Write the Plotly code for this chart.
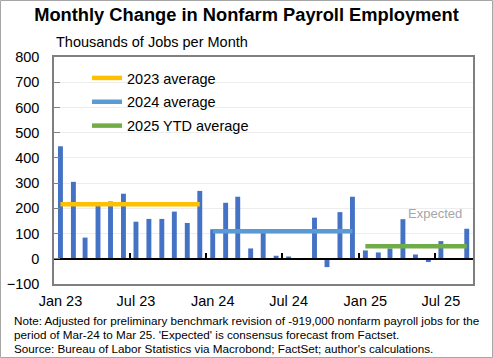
import plotly.graph_objects as go
import pandas as pd

# ---------------- data ----------------
months = pd.date_range("2023-01-01", "2025-09-01", freq="MS")
payroll_change = [
    446, 305, 84, 210, 227, 258, 147, 158, 158, 187, 142, 269,      # 2023
    117, 222, 246, 41, 104, 12, 9, -5, 163, -33, 185, 246,          # 2024
    33, 25, 41, 157, 17, -13, 70, -4, 119,                          # 2025
]
expected_month = "2025-09-01"
expected_value = 48
avg_labels = ["2023 average", "2024 average", "2025 YTD average"]
avg_years = [2023, 2024, 2025]
tick_dates = ["2023-01-01", "2023-07-01", "2024-01-01", "2024-07-01", "2025-01-01", "2025-07-01"]
tick_text = ["Jan 23", "Jul 23", "Jan 24", "Jul 24", "Jan 25", "Jul 25"]
boundary_ticks = ["2023-06-16", "2023-12-16", "2024-06-16", "2024-12-16", "2025-06-16"]
notes = [
    "Note: Adjusted for preliminary benchmark revision of -919,000 nonfarm payroll jobs for the",
    "period of Mar-24 to Mar 25. 'Expected' is consensus forecast from Factset.",
    "Source: Bureau of Labor Statistics via Macrobond; FactSet; author's calculations.",
]

# ---------------- layout constants ----------------
W, H = 493, 358
ML, MR, MT, MB = 54, 20, 57, 74
PW, PH = W - ML - MR, H - MT - MB
FONT = "Liberation Sans, Arial, sans-serif"
BAR = "#4472C4"
AVG_COLORS = ["#FFC000", "#5B9BD5", "#70AD47"]
YMIN, YMAX = -100, 800


def py(pix):  # pixel row -> paper y
    return (H - MB - pix) / PH


def px(pix):  # pixel col -> paper x
    return (pix - ML) / PW


df = pd.DataFrame({"date": months, "val": payroll_change})

fig = go.Figure()
fig.add_trace(go.Bar(x=df["date"], y=df["val"], marker_color=BAR,
                     marker_line_width=0, showlegend=False, hoverinfo="x+y"))
fig.add_trace(go.Bar(x=[pd.Timestamp(expected_month)], y=[expected_value],
                     marker_color="rgba(205,205,205,0.72)", marker_line_width=0,
                     showlegend=False))

for lab, yr, col in zip(avg_labels, avg_years, AVG_COLORS):
    sub = df[df["date"].dt.year == yr]
    m = sub["val"].mean()
    fig.add_trace(go.Scatter(
        x=[sub["date"].iloc[0], sub["date"].iloc[-1]], y=[m, m],
        mode="lines", line=dict(color=col, width=4.5), name=lab,
        legendgroup=lab,
    ))

# invisible trace to create the zero-line axis subplot
fig.add_trace(go.Scatter(x=df["date"], y=[0] * len(df), xaxis="x2", mode="lines",
                         line=dict(width=0), showlegend=False, hoverinfo="skip"))

x_lo = months[0] - pd.Timedelta(days=15.5)
x_hi = months[-1] + pd.Timedelta(days=15)

fig.update_layout(
    width=W, height=H,
    margin=dict(l=ML, r=MR, t=MT, b=MB, autoexpand=False),
    paper_bgcolor="white", plot_bgcolor="white",
    font=dict(family=FONT, size=14.5, color="black"),
    barmode="overlay", bargap=0.58,
    title=dict(text="<b>Monthly Change in Nonfarm Payroll Employment</b>",
               x=0.5, xref="container", xanchor="center",
               y=1 - 15 / H, yref="container", yanchor="middle",
               font=dict(family=FONT, size=18.3, color="black")),
    xaxis=dict(type="date", range=[x_lo, x_hi], tickmode="array",
               tickvals=tick_dates, ticktext=tick_text, ticks="",
               showgrid=False, showline=True, linecolor="#7F7F7F", linewidth=1.5,
               mirror=True, zeroline=False, tickfont=dict(size=14.5),
               ticklabelstandoff=3, automargin=False),
    xaxis2=dict(type="date", matches="x", overlaying="x", anchor="free",
                position=(0 - YMIN) / (YMAX - YMIN), side="bottom",
                tickmode="array", tickvals=boundary_ticks, ticks="inside",
                ticklen=5, tickwidth=1.5, tickcolor="black",
                showticklabels=False, showgrid=False, showline=True,
                linecolor="black", linewidth=1.5, zeroline=False, automargin=False),
    yaxis=dict(range=[YMIN, YMAX], dtick=100, tick0=0, ticks="inside", ticklen=6,
               tickcolor="#7F7F7F", showgrid=True, gridcolor="#EDEDED",
               gridwidth=1, showline=True, linecolor="#7F7F7F", linewidth=1.5,
               mirror=True, zeroline=False, tickfont=dict(size=14.5),
               ticklabelstandoff=10, automargin=False),
    legend=dict(x=px(87), y=py(62), xanchor="left", yanchor="top",
                bgcolor="rgba(0,0,0,0)", font=dict(size=14.5),
                traceorder="grouped", tracegroupgap=2, itemwidth=30),
    showlegend=True,
)

annotations = [
    dict(text="Thousands of Jobs per Month", xref="paper", yref="paper",
         x=px(54), y=py(42), xanchor="left", yanchor="middle", showarrow=False,
         font=dict(size=14.5, color="black")),
    dict(text="Expected", xref="x", yref="paper",
         x=pd.Timestamp(expected_month), y=py(213), xanchor="right",
         yanchor="middle", xshift=-3, showarrow=False,
         font=dict(size=13, color="#A6A6A6")),
]
for i, (t, yy) in enumerate(zip(notes, [320, 334, 348])):
    annotations.append(dict(text=t, xref="paper", yref="paper", x=px(12), y=py(yy),
                            xanchor="left", yanchor="middle", showarrow=False,
                            font=dict(size=11.7, color="black")))
fig.update_layout(annotations=annotations)

fig.add_shape(type="rect", xref="paper", yref="paper",
              x0=px(0.5), x1=px(W - 0.5), y0=py(H - 0.5), y1=py(0.5),
              line=dict(color="#A6A6A6", width=1), fillcolor="rgba(0,0,0,0)",
              layer="below")

fig.write_html("out.html", config={"displayModeBar": False},
               post_script="document.body.style.margin='0';")
